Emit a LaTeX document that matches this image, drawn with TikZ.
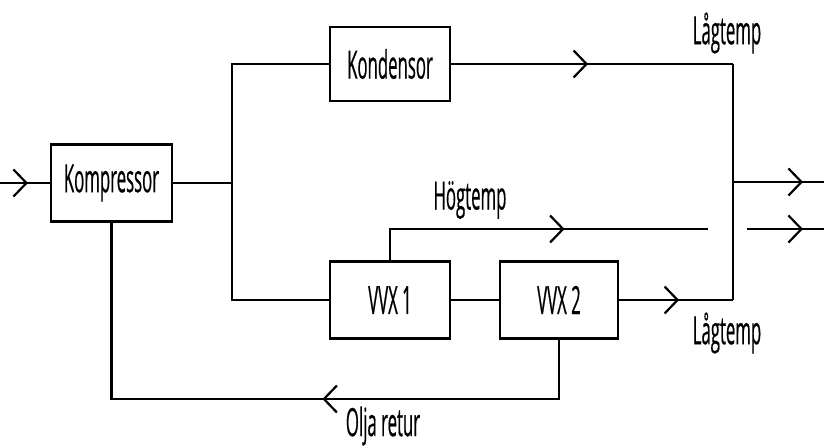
\documentclass[tikz,border=0pt]{standalone}
\usepackage{fontspec}
\setmainfont[FakeStretch=0.43,FakeBold=0.4]{Open Sans}
\usetikzlibrary{arrows.meta,decorations.markings}
\begin{document}
\begin{tikzpicture}[x=1pt,y=-1pt,line width=2.2pt,
  box/.style={draw,rectangle,minimum width=120pt,minimum height=77pt,inner sep=0pt,font=\fontsize{39}{39}\selectfont},
  lbl/.style={inner sep=0pt,font=\fontsize{39}{39}\selectfont},
  chev/.style={postaction={decorate},decoration={markings,mark=at position #1 with {\arrow{Straight Barb[length=13pt,width=27pt,line width=2.2pt]}}}}]
\useasboundingbox (0,0) rectangle (824,447);
\node[box,minimum width=121pt] (komp) at (111.5,183) {Kompressor};
\node[box,minimum height=74pt] (kond) at (390,64) {Kondensor};
\node[box] (vvx1) at (390,300) {VVX 1};
\node[box,minimum width=118pt] (vvx2) at (559,300) {VVX 2};
\coordinate (in) at (0,183);
\coordinate (jn) at (232,183);
\coordinate (rb1) at (733,64);
\coordinate (rb2) at (733,300);
\coordinate (o1a) at (733,182);
\coordinate (o1b) at (824,182);
\coordinate (o2a) at (747,229);
\coordinate (o2b) at (824,229);
\coordinate (hog) at (708,229);
\coordinate (oljaR) at (559,399);
\coordinate (oljaL) at (111.5,399);
\draw[chev=28pt] (in) -- (komp.west);
\draw (komp.east) -- (jn);
\draw (kond.west) -| (jn) |- (vvx1.west);
\draw[chev=137pt] (kond.east) -- (rb1);
\draw (rb1) -- (rb2);
\draw[chev=60pt] (vvx2.east) -- (rb2);
\draw (vvx1.east) -- (vvx2.west);
\draw[chev=206pt] (vvx1.north) |- (hog);
\draw[chev=70pt] (o1a) -- (o1b);
\draw[chev=56pt] (o2a) -- (o2b);
\draw[chev=296pt] (vvx2.south) -- (oljaR) -- (oljaL) -- (komp.south);
\node[lbl] (l1) at (727,33) {Lågtemp};
\node[lbl] (l2) at (727,333) {Lågtemp};
\node[lbl] (h) at (470,200) {Högtemp};
\node[lbl] (o) at (383,426) {Olja retur};
\end{tikzpicture}
\end{document}
